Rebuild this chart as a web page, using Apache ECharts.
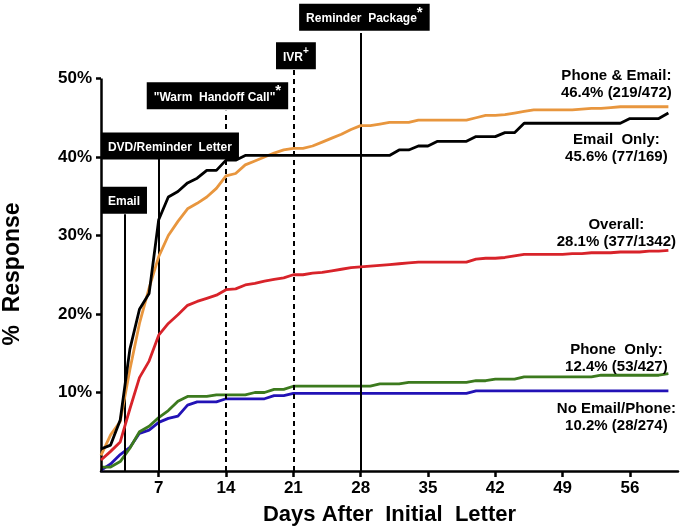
<!DOCTYPE html>
<html>
<head>
<meta charset="utf-8">
<script src="https://cdn.jsdelivr.net/npm/echarts@6/dist/echarts.min.js"></script>
<style>
  html, body { margin: 0; padding: 0; background: #fff; }
  #chart { width: 680px; height: 532px; }
</style>
</head>
<body>
<div id="chart"></div>
<script>
// days after the initial letter
const days = [1, 2, 3, 4, 5, 6, 7, 8, 9, 10, 11, 12, 13, 14, 15, 16, 17, 18, 19, 20,
  21, 22, 23, 24, 25, 26, 27, 28, 29, 30, 31, 32, 33, 34, 35, 36, 37, 38, 39, 40,
  41, 42, 43, 44, 45, 46, 47, 48, 49, 50, 51, 52, 53, 54, 55, 56, 57, 58, 59, 60]

// cumulative % response per group
const phoneEmail = [2.0, 4.6, 6.3, 12.9, 18.8, 23.3, 27.3, 30.0, 31.8, 33.4, 34.1, 34.9, 36.0, 37.6, 37.9, 39.0, 39.5, 40.0, 40.5, 40.9,
  41.1, 41.1, 41.4, 41.9, 42.4, 42.9, 43.5, 44.0, 44.0, 44.2, 44.4, 44.4, 44.4, 44.7, 44.7, 44.7, 44.7, 44.7, 44.7, 45.0,
  45.3, 45.3, 45.4, 45.6, 45.8, 46.0, 46.0, 46.0, 46.0, 46.0, 46.1, 46.2, 46.2, 46.3, 46.4, 46.4, 46.4, 46.4, 46.4, 46.4]
const emailOnly = [2.8, 3.3, 6.5, 15.5, 20.6, 22.6, 32.0, 34.9, 35.6, 36.7, 37.3, 38.3, 38.3, 39.6, 39.6, 40.2, 40.2, 40.2, 40.2, 40.2,
  40.2, 40.2, 40.2, 40.2, 40.2, 40.2, 40.2, 40.2, 40.2, 40.2, 40.2, 40.9, 40.9, 41.4, 41.4, 42.0, 42.0, 42.0, 42.0, 42.6,
  42.6, 42.6, 43.1, 43.1, 44.3, 44.3, 44.3, 44.3, 44.3, 44.3, 44.3, 44.3, 44.3, 44.3, 44.3, 44.9, 44.9, 44.9, 44.9, 45.6]
const overall = [1.4, 2.5, 3.7, 7.9, 11.9, 14.0, 17.3, 18.8, 19.9, 21.1, 21.6, 22.0, 22.4, 23.1, 23.2, 23.7, 23.9, 24.2, 24.4, 24.6,
  25.0, 25.0, 25.2, 25.3, 25.5, 25.7, 25.9, 26.0, 26.1, 26.2, 26.3, 26.4, 26.5, 26.6, 26.6, 26.6, 26.6, 26.6, 26.6, 27.0,
  27.1, 27.1, 27.2, 27.4, 27.6, 27.6, 27.6, 27.6, 27.6, 27.7, 27.7, 27.8, 27.8, 27.8, 27.9, 27.9, 27.9, 28.0, 28.0, 28.1]
const phoneOnly = [0.5, 0.5, 1.2, 2.9, 5.0, 5.7, 6.8, 7.7, 8.9, 9.5, 9.5, 9.5, 9.7, 9.7, 9.7, 9.7, 10.0, 10.0, 10.4, 10.4,
  10.8, 10.8, 10.8, 10.8, 10.8, 10.8, 10.8, 10.8, 10.8, 11.1, 11.1, 11.1, 11.3, 11.3, 11.3, 11.3, 11.3, 11.3, 11.3, 11.5,
  11.5, 11.7, 11.7, 11.7, 12.0, 12.0, 12.0, 12.0, 12.0, 12.0, 12.0, 12.0, 12.2, 12.2, 12.2, 12.2, 12.2, 12.2, 12.2, 12.4]
const noEmailPhone = [0.1, 0.9, 2.1, 3.0, 4.8, 5.2, 6.2, 6.7, 7.0, 8.4, 8.8, 8.8, 8.8, 9.2, 9.2, 9.2, 9.2, 9.2, 9.6, 9.6,
  9.9, 9.9, 9.9, 9.9, 9.9, 9.9, 9.9, 9.9, 9.9, 9.9, 9.9, 9.9, 9.9, 9.9, 9.9, 9.9, 9.9, 9.9, 9.9, 10.2,
  10.2, 10.2, 10.2, 10.2, 10.2, 10.2, 10.2, 10.2, 10.2, 10.2, 10.2, 10.2, 10.2, 10.2, 10.2, 10.2, 10.2, 10.2, 10.2, 10.2]

const groupNames = ['No Email/Phone', 'Phone  Only', 'Overall', 'Phone & Email', 'Email  Only']
const groupTotals = ['10.2% (28/274)', '12.4% (53/427)', '28.1% (377/1342)', '46.4% (219/472)', '45.6% (77/169)']

// outreach events
const eventNames = ['Email', 'DVD/Reminder  Letter', '"Warm  Handoff Call"', 'IVR', 'Reminder  Package']
const eventMarks = ['', '', '*', '+', '*']
const eventDays = [3.45, 7, 14, 21, 28]

const xTicks = [7, 14, 21, 28, 35, 42, 49, 56]
const yTicks = [10, 20, 30, 40, 50]

const FONT = '"Liberation Sans", Arial, Helvetica, sans-serif'

// layout for the event lines / boxes (in data units)
const eventLayout = [
  { dashed: false, top: 32.7, boxX: 3.39, boxY: 34.5 },
  { dashed: false, top: 39.8, boxX: 8.17, boxY: 41.4 },
  { dashed: true, top: 45.9, boxX: 13.11, boxY: 47.8 },
  { dashed: true, top: 51.1, boxX: 21.27, boxY: 52.9 },
  { dashed: false, top: 55.8, boxX: 28.39, boxY: 57.8 }
]

const groupStyle = [
  { values: noEmailPhone, color: '#2212B6', pos: 'bottom', dist: 9 },
  { values: phoneOnly, color: '#3C7A1E', pos: 'top', dist: -2 },
  { values: overall, color: '#D8232A', pos: 'top', dist: 0 },
  { values: phoneEmail, color: '#E8963E', pos: 'top', dist: 5 },
  { values: emailOnly, color: '#000000', pos: 'bottom', dist: 18 }
]

const lineSeries = groupStyle.map((g, k) => {
  const last = days.length - 1
  return {
    name: groupNames[k],
    type: 'line',
    data: days.map((d, i) => [d, g.values[i]]),
    showSymbol: false,
    symbol: 'none',
    silent: true,
    z: 3 + k,
    lineStyle: { color: g.color, width: 2.8 },
    itemStyle: { color: g.color },
    markPoint: {
      symbol: 'circle',
      symbolSize: 0,
      silent: true,
      data: [{
        coord: [days[last], g.values[last]],
        label: {
          show: true,
          position: g.pos,
          distance: g.dist,
          offset: [-52, 0],
          formatter: groupNames[k] + ':\n' + groupTotals[k],
          fontFamily: FONT,
          fontWeight: 'bold',
          fontSize: 15,
          lineHeight: 17,
          color: '#000',
          align: 'center'
        }
      }]
    }
  }
})

const eventSeries = {
  name: 'events',
  type: 'scatter',
  symbolSize: 0,
  silent: true,
  z: 10,
  itemStyle: { opacity: 1 },
  data: eventLayout.map((e, i) => ({
    value: [e.boxX, e.boxY],
    label: {
      show: true,
      position: 'inside',
      opacity: 1,
      formatter: '{t|' + eventNames[i] + '}' + (eventMarks[i] ? '{' + (eventMarks[i] === '+' ? 'sup2' : 'sup') + '|' + eventMarks[i] + '}' : ''),
      backgroundColor: '#000',
      padding: [6, 7],
      rich: {
        t: { fontFamily: FONT, fontWeight: 'bold', fontSize: 12, color: '#fff', lineHeight: 15, verticalAlign: 'bottom' },
        sup: { fontFamily: FONT, fontWeight: 'bold', fontSize: 15, color: '#fff', lineHeight: 11, padding: [0, 0, 9, 0] },
        sup2: { fontFamily: FONT, fontWeight: 'bold', fontSize: 10, color: '#fff', lineHeight: 9, padding: [0, 0, 8, 0] }
      }
    }
  })),
  markLine: {
    silent: true,
    symbol: ['none', 'none'],
    label: { show: false },
    data: [
      // y axis line, only up to 50%
      [{ coord: [days[0], 0], lineStyle: { color: '#000', width: 2.5, type: 'solid' } }, { coord: [days[0], 50] }]
    ].concat(eventLayout.map((e, i) => [
      { coord: [eventDays[i], 0], lineStyle: { color: '#000', width: 2, type: e.dashed ? [5, 4] : 'solid' } },
      { coord: [eventDays[i], e.top] }
    ]))
  }
}

const chart = echarts.init(document.getElementById('chart'))
chart.setOption({
  animation: false,
  backgroundColor: '#fff',
  grid: { left: 101, right: 2, top: 0, bottom: 61, containLabel: false },
  xAxis: {
    type: 'value',
    min: 1,
    max: 61,
    name: 'Days After  Initial  Letter',
    nameLocation: 'middle',
    nameGap: 33,
    nameTextStyle: { fontFamily: FONT, fontWeight: 'bold', fontSize: 22, color: '#000' },
    axisLine: { show: true, onZero: false, lineStyle: { color: '#000', width: 2.5 } },
    axisTick: { show: true, customValues: xTicks, length: 6, lineStyle: { color: '#000', width: 2.5 } },
    axisLabel: { customValues: xTicks, margin: 9, fontFamily: FONT, fontWeight: 'bold', fontSize: 17, color: '#000' },
    splitLine: { show: false }
  },
  yAxis: {
    type: 'value',
    min: 0,
    max: 60,
    axisLine: { show: false },
    axisTick: { show: true, customValues: yTicks, length: 5, lineStyle: { color: '#000', width: 2.5 } },
    axisLabel: { customValues: yTicks, formatter: '{value}%', margin: 9, fontFamily: FONT, fontWeight: 'bold', fontSize: 17, color: '#000' },
    splitLine: { show: false }
  },
  graphic: [{
    type: 'text',
    x: 13,
    y: 274,
    rotation: Math.PI / 2,
    style: {
      text: '%  Response',
      fill: '#000',
      font: 'bold 23px ' + FONT,
      align: 'center',
      verticalAlign: 'middle'
    }
  }],
  series: lineSeries.concat([eventSeries])
})
</script>
</body>
</html>
